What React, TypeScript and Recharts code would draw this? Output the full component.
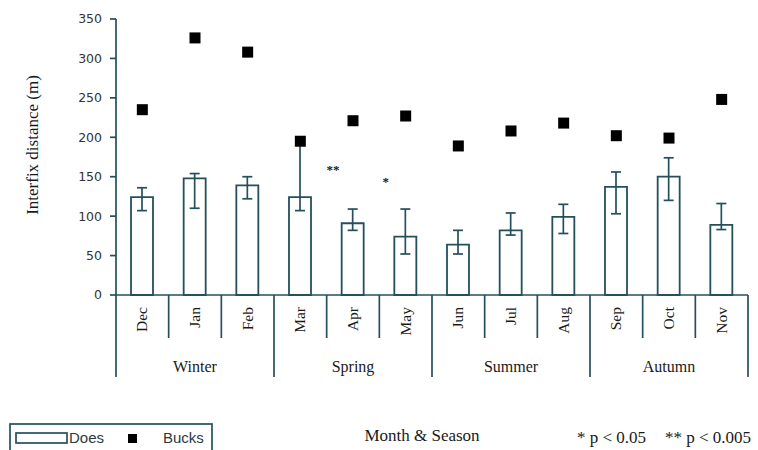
import {
  Bar,
  ComposedChart,
  ErrorBar,
  Scatter,
  XAxis,
  YAxis,
} from "recharts";

const months = ["Dec", "Jan", "Feb", "Mar", "Apr", "May", "Jun", "Jul", "Aug", "Sep", "Oct", "Nov"];
const seasons = ["Winter", "Spring", "Summer", "Autumn"];
const does = [124, 148, 139, 124, 91, 74, 64, 82, 99, 137, 150, 89];
const doesLow = [107, 110, 122, 107, 82, 52, 52, 76, 78, 103, 120, 83];
const doesHigh = [136, 154, 150, 192, 109, 109, 82, 104, 115, 156, 174, 116];
const bucks = [235, 326, 308, 195, 221, 227, 189, 208, 218, 202, 199, 248];
const sigLevel = [null, null, null, null, 158, 143, null, null, null, null, null, null];
const sigMark = ["", "", "", "", "**", "*", "", "", "", "", "", ""];
const yTicks = [0, 50, 100, 150, 200, 250, 300, 350];

const INK = "#24505c";
const TEXT = "#1a1a1a";
const SERIF = "'Liberation Serif', 'Times New Roman', serif";
const SANS = "'Liberation Sans', Arial, sans-serif";

const data = months.map((m, i) => ({
  month: m,
  does: does[i],
  err: [does[i] - doesLow[i], doesHigh[i] - does[i]],
  bucks: bucks[i],
  sig: sigLevel[i],
  mark: sigMark[i],
}));

function MonthTick(props: any) {
  const { x, y, payload, index } = props;
  const half = payload?.offset || 52.67 / 2;
  const left = x - half;
  const seasonStart = index % 3 === 0;
  return (
    <g>
      <line x1={left} y1={y} x2={left} y2={y + (seasonStart ? 82 : 43)} stroke={INK} strokeWidth={1.7} />
      {index === months.length - 1 && (
        <line x1={x + half} y1={y} x2={x + half} y2={y + 82} stroke={INK} strokeWidth={1.7} />
      )}
      <text
        x={x + 5}
        y={y + 12}
        transform={`rotate(-90 ${x + 5} ${y + 12})`}
        textAnchor="end"
        fontFamily={SERIF}
        fontSize={15.5}
        fill={TEXT}
      >
        {payload.value}
      </text>
      {index % 3 === 1 && (
        <text x={x} y={y + 77} textAnchor="middle" fontFamily={SERIF} fontSize={16} fill={TEXT}>
          {seasons[Math.floor(index / 3)]}
        </text>
      )}
    </g>
  );
}

function BuckSquare(props: any) {
  const { cx, cy } = props;
  if (cx == null || cy == null) return null;
  return <rect x={cx - 5.5} y={cy - 5.5} width={11} height={11} fill="#000" />;
}

function SigText(props: any) {
  const { cx, cy, payload } = props;
  if (cx == null || cy == null || !payload?.mark) return null;
  return (
    <text x={cx - 20} y={cy + 4} textAnchor="middle" fontFamily={SERIF} fontSize={13} fontWeight="bold" fill={TEXT}>
      {payload.mark}
    </text>
  );
}

export default function App() {
  return (
    <div style={{ position: "absolute", left: 0, top: 0, width: 758, height: 450, background: "#fff" }}>
      <ComposedChart
        width={758}
        height={450}
        data={data}
        margin={{ top: 19, right: 10, left: 0, bottom: 0 }}
      >
        <XAxis
          dataKey="month"
          height={155}
          interval={0}
          tickLine={false}
          tickSize={0}
          tickMargin={0}
          axisLine={{ stroke: INK, strokeWidth: 1.7 }}
          tick={<MonthTick />}
        />
        <YAxis
          width={116}
          domain={[0, 350]}
          ticks={yTicks}
          interval={0}
          tickSize={6}
          tickMargin={8}
          axisLine={{ stroke: INK, strokeWidth: 1.7 }}
          tickLine={{ stroke: INK, strokeWidth: 1.7 }}
          tick={{ fontFamily: "'DejaVu Sans', sans-serif", fontSize: 12.5, fill: "#333" }}
        />
        <Bar dataKey="does" barSize={22} fill="#fff" stroke={INK} strokeWidth={1.8} isAnimationActive={false}>
          <ErrorBar dataKey="err" width={5} stroke={INK} strokeWidth={1.7} direction="y" />
        </Bar>
        <Scatter dataKey="bucks" shape={<BuckSquare />} isAnimationActive={false} />
        <Scatter dataKey="sig" shape={<SigText />} isAnimationActive={false} />
      </ComposedChart>
      <svg width={758} height={450} style={{ position: "absolute", left: 0, top: 0, pointerEvents: "none" }}>
        <text
          x={38}
          y={145}
          transform="rotate(-90 38 145)"
          textAnchor="middle"
          fontFamily={SERIF}
          fontSize={17}
          fill={TEXT}
        >
          Interfix distance (m)
        </text>
        <rect x={10} y={424} width={202} height={32} fill="none" stroke={INK} strokeWidth={1.7} />
        <rect x={16} y={433} width={51} height={10} fill="#fff" stroke={INK} strokeWidth={1.7} />
        <text x={69} y={443} fontFamily={SANS} fontSize={15} fill="#2b3a40">Does</text>
        <rect x={128} y={434} width={9} height={9} fill="#000" />
        <text x={163} y={443} fontFamily={SANS} fontSize={15} fill="#2b3a40">Bucks</text>
        <text x={422} y={441} textAnchor="middle" fontFamily={SERIF} fontSize={17} fill={TEXT}>
          Month &amp; Season
        </text>
        <text x={577} y={443} fontFamily={SERIF} fontSize={17} fill={TEXT}>* p &lt; 0.05</text>
        <text x={665} y={443} fontFamily={SERIF} fontSize={17} fill={TEXT}>** p &lt; 0.005</text>
      </svg>
    </div>
  );
}
